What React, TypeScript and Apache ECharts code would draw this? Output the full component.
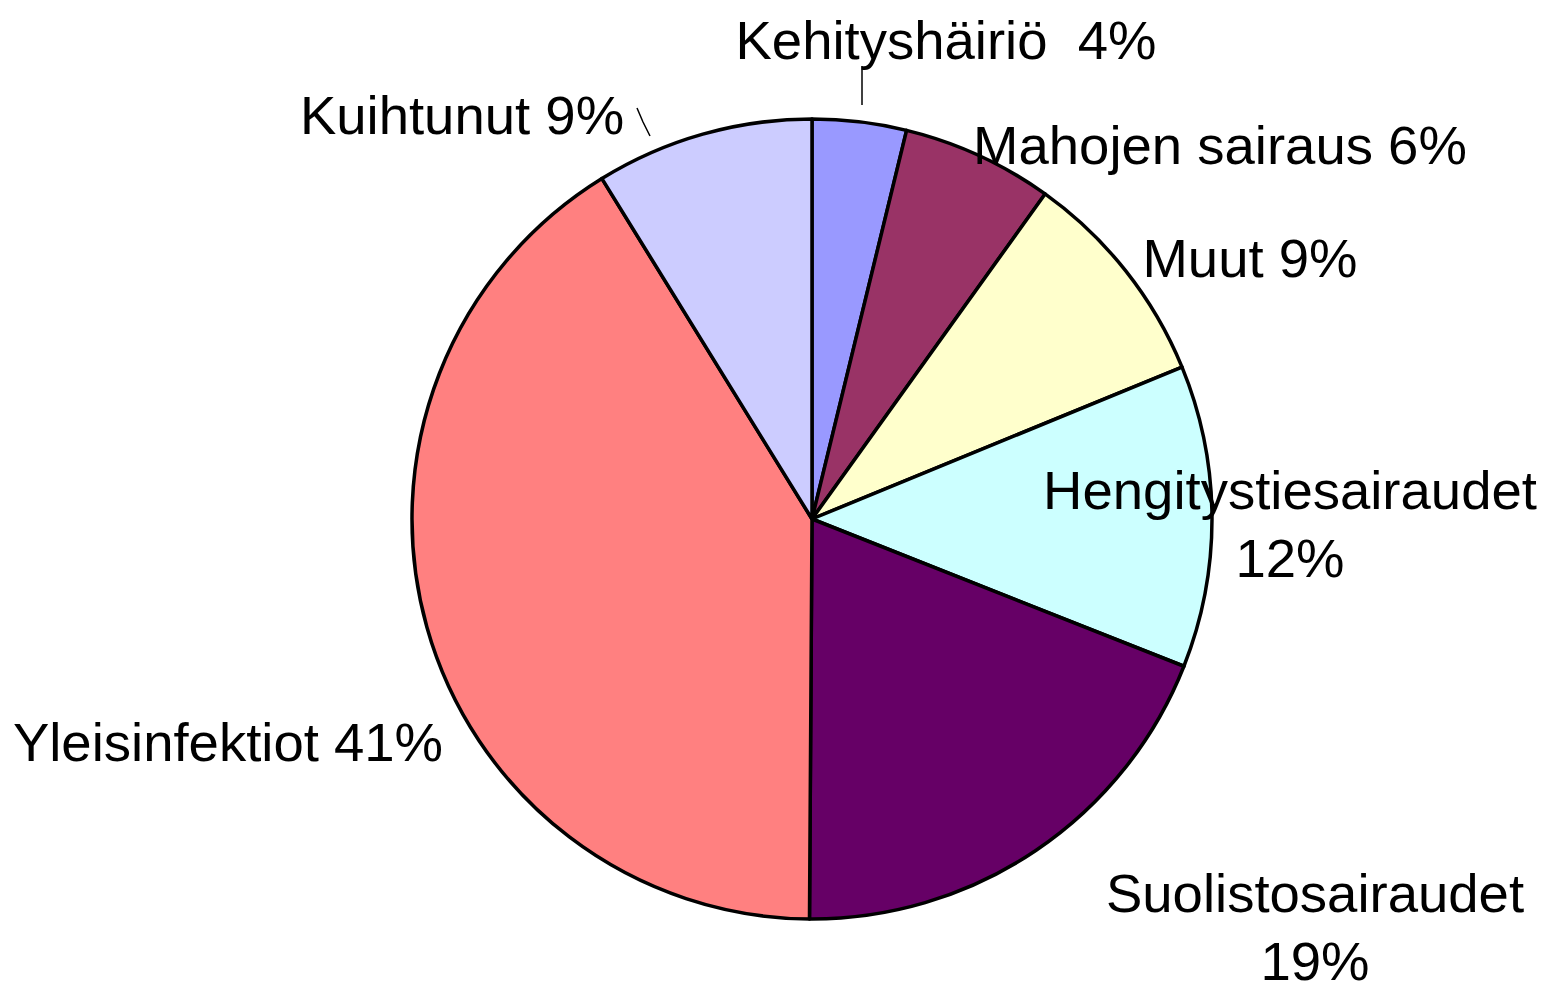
import React, { useEffect, useRef } from "react";
import * as echarts from "echarts";

const categories = [
  "Kehityshäiriö ",
  "Mahojen sairaus",
  "Muut",
  "Hengitystiesairaudet",
  "Suolistosairaudet",
  "Yleisinfektiot",
  "Kuihtunut",
];
const values = [3.8, 6.1, 8.9, 12.2, 19.1, 41.1, 8.8];
const colors = ["#9999FF", "#993366", "#FFFFCC", "#CCFFFF", "#660066", "#FF8080", "#CCCCFF"];
const multiLine = [false, false, false, true, true, false, false];
const showLine = [true, false, false, false, false, false, true];

// label centre positions (layout)
const labelPos: [number, number][] = [
  [946, 40],
  [1220, 145],
  [1250, 258],
  [1290, 524],
  [1315, 927],
  [228, 742],
  [462, 115],
];
const linePts: ([number, number][] | null)[] = [
  [[862, 105], [862, 85], [862, 66]],
  null,
  null,
  null,
  null,
  null,
  [[650, 136], [643, 122], [637, 108]],
];

export default function App() {
  const ref = useRef<HTMLDivElement>(null);
  useEffect(() => {
    if (!ref.current) return;
    const chart = echarts.init(ref.current, undefined, { renderer: "svg" });
    chart.setOption({
      animation: false,
      backgroundColor: "#ffffff",
      series: [
        {
          type: "pie",
          center: [812, 519],
          radius: 400,
          startAngle: 90,
          clockwise: true,
          avoidLabelOverlap: false,
          itemStyle: { borderColor: "#000000", borderWidth: 3.5 },
          label: {
            show: true,
            position: "outside",
            color: "#000000",
            fontFamily: "Liberation Sans, Arial, sans-serif",
            fontSize: 54.5,
            lineHeight: 68,
            align: "center",
            formatter: (p: any) =>
              p.name + (multiLine[p.dataIndex] ? "\n" : " ") + Math.round(p.percent) + "%",
          },
          labelLine: { show: true, lineStyle: { color: "#000000", width: 1.5 } },
          labelLayout: (params: any) => {
            const i = params.dataIndex;
            const res: any = {
              x: labelPos[i][0],
              y: labelPos[i][1],
              align: "center",
              verticalAlign: "middle",
            };
            if (linePts[i]) res.labelLinePoints = linePts[i];
            return res;
          },
          data: categories.map((name, i) => ({
            name,
            value: values[i],
            itemStyle: { color: colors[i] },
            labelLine: { show: showLine[i] },
          })),
        },
      ],
    });
    return () => chart.dispose();
  }, []);
  return (
    <div
      ref={ref}
      style={{ position: "fixed", left: 0, top: 0, width: 1551, height: 986 }}
    />
  );
}
